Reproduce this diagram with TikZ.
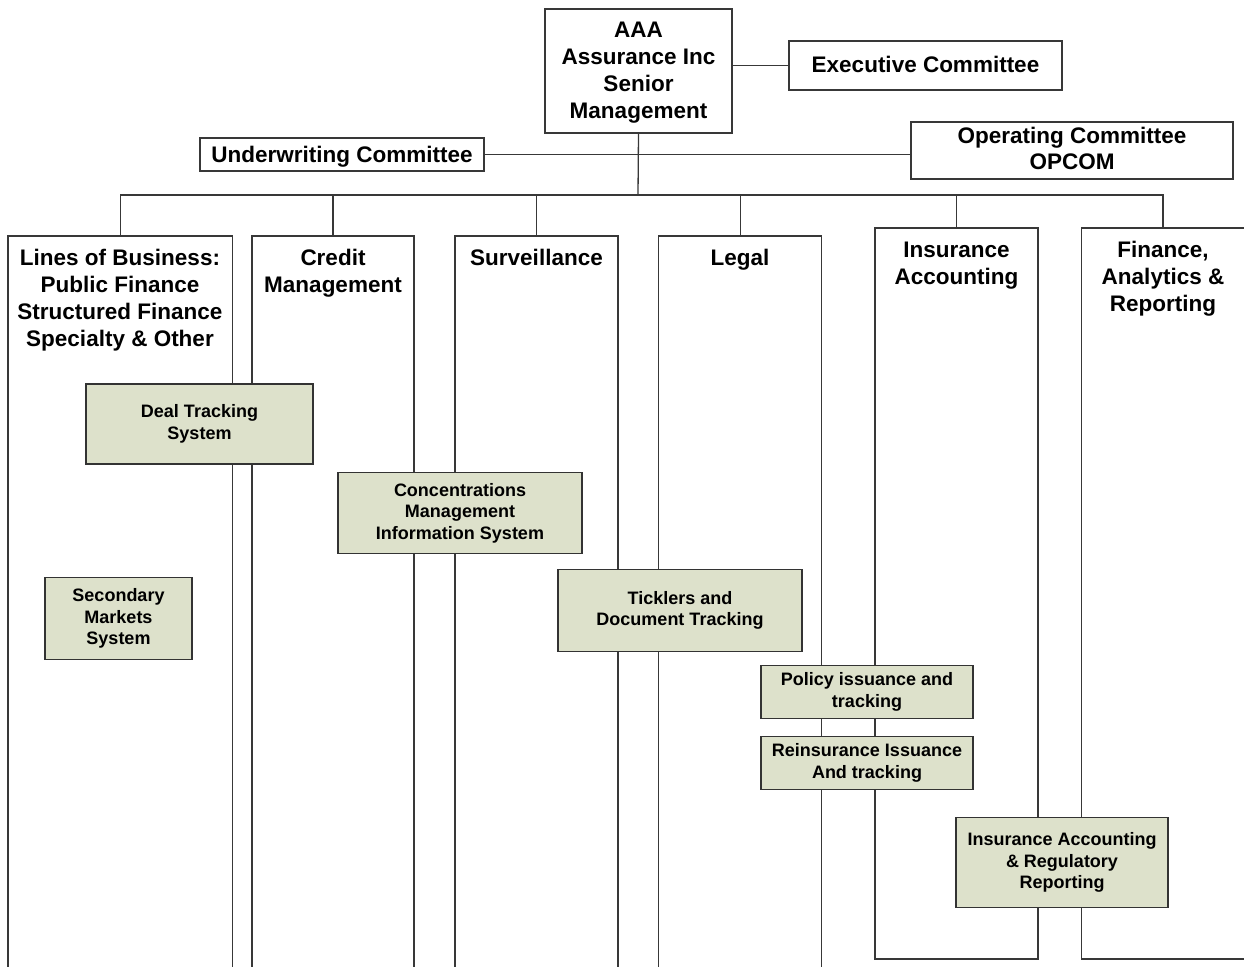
\documentclass[tikz,border=0pt]{standalone}
\usepackage{fontspec}
\setmainfont{Liberation Sans}
\definecolor{linec}{HTML}{383838}
\definecolor{sysline}{HTML}{333333}
\definecolor{sysfill}{HTML}{DDE1CB}
\begin{document}
\begin{tikzpicture}[x=1pt,y=-1pt,
  big/.style={font=\bfseries\fontsize{22.5}{27}\selectfont, align=center, text=black},
  small/.style={font=\bfseries\fontsize{18}{21.5}\selectfont, align=center, text=black},
  topbox/.style={draw=linec, line width=1.3pt, fill=white, inner sep=0pt, big},
  sysbox/.style={draw=sysline, fill=sysfill, line width=1.3pt, inner sep=0pt, small},
  colbox/.style={draw=linec, line width=1.3pt, inner sep=0pt},
  coltext/.style={big, inner sep=0pt},
  conn/.style={draw=linec, line width=1.3pt}]
\useasboundingbox (0,0) rectangle (1244,966);
\clip (0,0) rectangle (1244,966);
\fill[white] (0,0) rectangle (1244,966);

% columns
\node[colbox, minimum width=224.5pt, minimum height=764pt] (lob) at (120.25,618) {};
\node[colbox, minimum width=162pt, minimum height=764pt] (cm) at (333,618) {};
\node[colbox, minimum width=163pt, minimum height=764pt] (sv) at (536.5,618) {};
\node[colbox, minimum width=163pt, minimum height=764pt] (lg) at (740.15,618) {};
\node[colbox, minimum width=163pt, minimum height=731pt] (ia) at (956.5,593.5) {};
\node[colbox, minimum width=200pt, minimum height=731pt] (fin) at (1181.6,593.5) {};
\coordinate (finTop) at (1163,228);

\node[coltext] (lobt) at (120,300.5) {Lines of Business:\\Public Finance\\Structured Finance\\Specialty \& Other};
\node[coltext] (cmt) at (333,273.5) {Credit\\Management};
\node[coltext] (svt) at (536.5,257.5) {Surveillance};
\node[coltext] (lgt) at (740,260) {Legal};
\node[coltext] (iat) at (956.5,265.5) {Insurance\\Accounting};
\node[coltext] (fint) at (1163,279) {Finance,\\Analytics \&\\Reporting};

% top
\node[topbox, minimum width=187pt, minimum height=124pt] (sm) at (638.5,71) {};
\node[big, inner sep=0pt] (smt) at (638.5,72.5) {AAA\\Assurance Inc\\Senior\\Management};
\node[topbox, minimum width=273pt, minimum height=49pt] (ex) at (925.5,65.5) {};
\node[big, inner sep=0pt] (ext) at (925.5,64.5) {Executive Committee};
\node[topbox, minimum width=284pt, minimum height=33pt] (uw) at (342,154.5) {};
\node[big, inner sep=0pt] (uwt) at (342,156.5) {Underwriting Committee};
\node[topbox, minimum width=322pt, minimum height=57pt] (op) at (1072,150.5) {};
\node[font=\bfseries\fontsize{22.5}{26}\selectfont, align=center, inner sep=0pt] (opt) at (1072,148.5) {Operating Committee\\OPCOM};
\coordinate (bus) at (638,195);

\draw[conn] (ex.west -| sm.east) -- (ex.west);
\draw[conn] (uw.east) -- (uw.east -| op.west);
\draw[conn] (sm.south) -- (bus);
\draw[conn] (lob.north) |- (bus);
\draw[conn] (cm.north) |- (bus);
\draw[conn] (sv.north) |- (bus);
\draw[conn] (lg.north) |- (bus);
\draw[conn] (ia.north) |- (bus);
\draw[conn] (finTop) |- (bus);

% systems
\node[sysbox, minimum width=227pt, minimum height=80pt] (dt) at (199.5,424) {Deal Tracking\\System};
\node[sysbox, minimum width=244pt, minimum height=81pt] (cmis) at (460,513) {Concentrations\\Management\\Information System};
\node[sysbox, minimum width=147pt, minimum height=82pt] (smk) at (118.5,618.5) {Secondary\\Markets\\System};
\node[sysbox, minimum width=244pt, minimum height=82pt] (tk) at (680,610.5) {Ticklers and\\Document Tracking};
\node[sysbox, minimum width=212pt, minimum height=53pt] (pol) at (867,692) {Policy issuance and\\tracking};
\node[sysbox, minimum width=212pt, minimum height=53pt] (rei) at (867,763) {Reinsurance Issuance\\And tracking};
\node[sysbox, minimum width=212pt, minimum height=90pt] (iar) at (1062,862.5) {Insurance Accounting\\\& Regulatory\\Reporting};
\end{tikzpicture}
\end{document}
